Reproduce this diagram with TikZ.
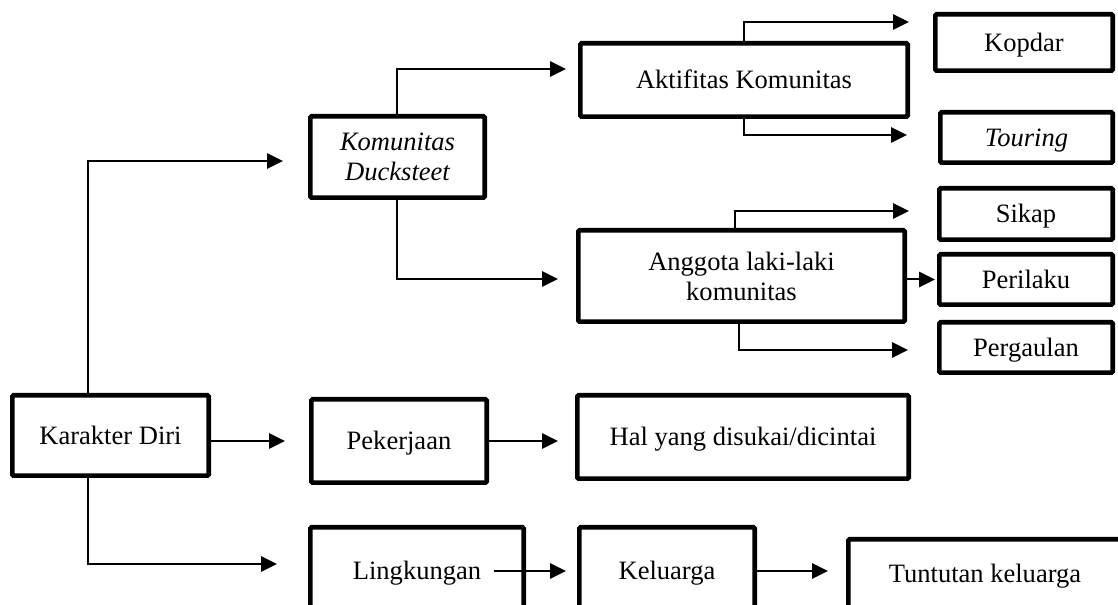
\documentclass[tikz,border=0pt]{standalone}
\usepackage{fontspec}
\setmainfont{Liberation Serif}
\usetikzlibrary{arrows.meta}
\tikzset{
  bx/.style 2 args={draw=black, line width=3.4pt, rounded corners=1pt, fill=white,
    inner sep=0pt, align=center, font=\fontsize{19.9}{22.5}\selectfont,
    minimum width=#1*0.75pt-3.4pt, minimum height=#2*0.75pt-3.4pt},
  one/.style={text height=17.5pt, text depth=4.4pt},
  arr/.style={draw=black, line width=1.5pt, -{Triangle[length=12pt,width=11.5pt]}}
}
\begin{document}
\begin{tikzpicture}[x=0.75pt,y=-0.75pt]
\useasboundingbox (0,0) rectangle (1118,605);
\clip (0,0) rectangle (1118,605);
% nodes
\node[bx={201}{85},one] (kar) at (110.5,435.5) {Karakter Diri};
\node[bx={179}{86}] (kom) at (397.5,157) {\itshape Komunitas\\\itshape Ducksteet};
\node[bx={332}{78},one] (akt) at (744,80) {Aktifitas Komunitas};
\node[bx={331}{96}] (ang) at (741.5,276) {Anggota laki-laki\\komunitas};
\node[bx={182}{61},one] (kop) at (1024,42.5) {Kopdar};
\node[bx={177}{55},one] (tou) at (1026.5,137.5) {\itshape Touring};
\node[bx={178}{56},one] (sik) at (1026,214) {Sikap};
\node[bx={178}{55},one] (per) at (1026,279.5) {Perilaku};
\node[bx={178}{55},one] (perg) at (1026,347.5) {Pergaulan};
\node[bx={180}{88},one] (pek) at (399,441) {Pekerjaan};
\node[bx={336}{88},one] (hal) at (743,437) {Hal yang disukai/dicintai};
\node[bx={218}{92},one] (lin) at (417,571) {Lingkungan};
\node[bx={180}{92},one] (kel) at (667,571) {Keluarga};
\node[bx={278}{74},one] (tun) at (985,574) {Tuntutan keluarga};
% connectors
\draw[arr, shorten >=18.75pt] (kar.north -| 88,0) |- (kom.west |- 0,161);
\draw[arr, shorten >=23.25pt] (kar.south -| 88,0) |- (lin.west |- 0,564);
\draw[arr, shorten >=18pt] (kar.east |- pek.west) -- (pek.west);
\draw[arr, shorten >=9pt] (kom.north -| 397,0) |- (akt.west |- 0,69);
\draw[arr, shorten >=13.5pt] (kom.south -| 397,0) |- (ang.west |- 0,279);
\draw[arr, shorten >=18pt] (akt.north -| 744,0) |- (kop.west |- 0,22);
\draw[arr, shorten >=23.25pt] (akt.south -| 744,0) |- (tou.west |- 0,135);
\draw[arr, shorten >=21pt] (ang.north -| 735,0) |- (sik.west |- 0,211);
\draw[arr, shorten >=1.5pt] (ang.east |- per.west) -- (per.west);
\draw[arr, shorten >=21.75pt] (ang.south -| 739,317) |- (perg.west |- 0,350);
\draw[arr, shorten >=12.75pt] (pek.east) -- (hal.west |- pek.east);
\draw[arr, shorten >=8.25pt] ([xshift=57.75pt]lin.center) -- (kel.west);
\draw[arr, shorten >=13.5pt] (kel.east) -- (kel.east -| tun.west);
\end{tikzpicture}
\end{document}
